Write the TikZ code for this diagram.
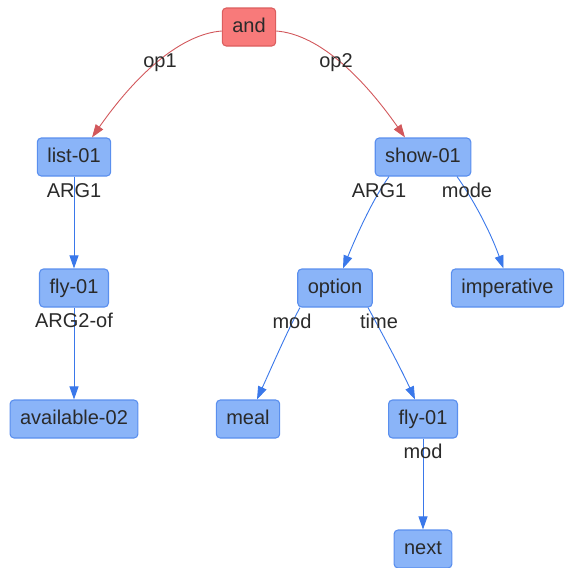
\documentclass[tikz,border=0pt]{standalone}
\usepackage{fontspec}
\setmainfont{Liberation Sans}
\usetikzlibrary{arrows.meta}
\definecolor{bfill}{HTML}{8AB4F8}
\definecolor{bline}{HTML}{5A8FEE}
\definecolor{bedgec}{HTML}{3A78EA}
\definecolor{rfill}{HTML}{F87A7A}
\definecolor{rline}{HTML}{DB5E5E}
\definecolor{redgec}{HTML}{D2585C}
\definecolor{txt}{HTML}{2A2A2A}
\begin{document}
\begin{tikzpicture}[x=1pt,y=-1pt,
  box/.style={rectangle, rounded corners=4pt, draw=bline, fill=bfill, line width=1.1pt,
    minimum height=38pt, inner xsep=10pt, inner ysep=0pt,
    font=\fontsize{20}{24}\selectfont, text=txt, text height=15pt, text depth=4pt},
  rbox/.style={box, draw=rline, fill=rfill},
  bedge/.style={draw=bedgec, line width=0.9pt, -{Triangle[length=13pt,width=9pt]}},
  redge/.style={bedge, draw=redgec},
  lab/.style={font=\fontsize{20}{24}\selectfont, text=txt, inner sep=0pt, text height=14.5pt, text depth=0pt}
]
\useasboundingbox (0,0) rectangle (566,568);

% nodes
\node[rbox] (and) at (249,27) {and};
\node[box] (list01) at (74,157) {list-01};
\node[box] (fly01a) at (74,288) {fly-01};
\node[box] (avail) at (74,419) {available-02};
\node[box] (show01) at (423,157) {show-01};
\node[box] (option) at (335,288) {option};
\node[box] (imper) at (507.5,288) {imperative};
\node[box] (meal) at (248,419) {meal};
\node[box] (fly01b) at (423,419) {fly-01};
\node[box] (next) at (423,549) {next};

% edges
\draw[redge] ([shift={(0,4)}]and.west) .. controls +(-39,3) and +(47,-67) .. ([shift={(18,0)}]list01.north);
\draw[redge] ([shift={(0,4)}]and.east) .. controls +(39,3) and +(-47,-67) .. ([shift={(-18,0)}]show01.north);
\draw[bedge] (list01) -- (fly01a);
\draw[bedge] (fly01a) -- (avail);
\draw[bedge] ([shift={(-34,0)}]show01.south) .. controls +(-15,21) and +(16,-39) .. ([shift={(8,0)}]option.north);
\draw[bedge] ([shift={(34,0)}]show01.south) .. controls +(15,21) and +(-14,-39) .. ([shift={(-4,0)}]imper.north);
\draw[bedge] ([shift={(-35,0)}]option.south) .. controls +(-12,22) and +(14,-31) .. ([shift={(9,0)}]meal.north);
\draw[bedge] ([shift={(33,0)}]option.south) .. controls +(12,22) and +(-14,-31) .. ([shift={(-8,0)}]fly01b.north);
\draw[bedge] (fly01b) -- (next);

% edge labels
\node[lab] (lop1) at (160,60) {op1};
\node[lab] (lop2) at (336,60) {op2};
\node[lab] (larg1a) at (74,190) {ARG1};
\node[lab] (larg2of) at (74,320) {ARG2-of};
\node[lab] (larg1b) at (379,190) {ARG1};
\node[lab] (lmode) at (467,190) {mode};
\node[lab] (lmod1) at (292,321) {mod};
\node[lab] (ltime) at (379,321) {time};
\node[lab] (lmod2) at (423,451) {mod};
\end{tikzpicture}
\end{document}
